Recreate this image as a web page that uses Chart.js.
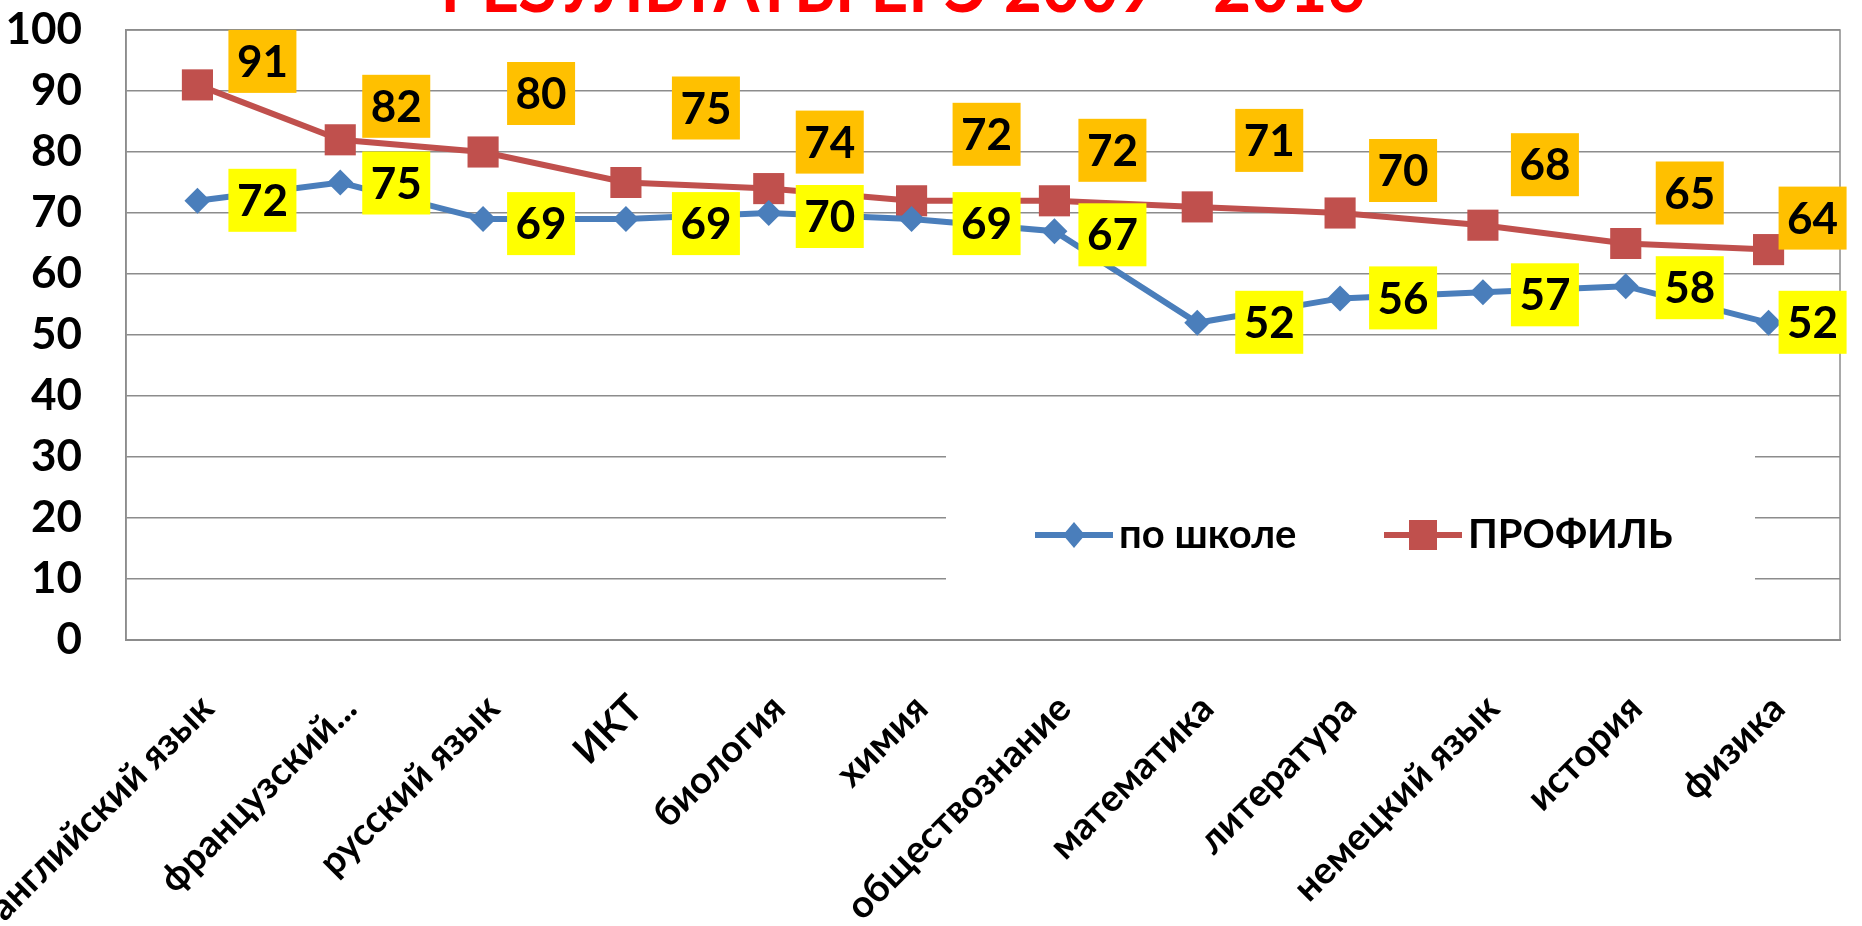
<!DOCTYPE html>
<html>
<head>
<meta charset="utf-8">
<script src="https://cdn.jsdelivr.net/npm/chart.js@4/dist/chart.umd.min.js"></script>
<style>
  html, body { margin: 0; padding: 0; background: #fff; overflow: hidden; }
  canvas { display: block; }
</style>
</head>
<body>
<canvas id="egeChart" width="1862" height="926"></canvas>
<script>
// данные
const titleText = 'РЕЗУЛЬТАТЫ ЕГЭ 2009 - 2016';
const categories = ['английский язык', 'французский...', 'русский язык', 'ИКТ', 'биология', 'химия',
    'обществознание', 'математика', 'литература', 'немецкий язык', 'история', 'физика'];
const seriesNames = ['по школе', 'ПРОФИЛЬ'];
const schoolValues = [72, 75, 69, 69, 70, 69, 67, 52, 56, 57, 58, 52];
const profileValues = [91, 82, 80, 75, 74, 72, 72, 71, 70, 68, 65, 64];

// сдвиги подписей (как их растащили вручную на слайде)
const labelDx = [65, 56, 58, 80, 61, 75, 58, 72, 63, 62, 64, 44];
const schoolDy = [-1, 0, 4, 4, 3, 4, 3, -1, -1, 2, 1, -1];
const profileDy = [-24, -34, -59, -75, -47, -67, -51, -67, -43, -61, -51, -32];

const FONT = 'Lato, "Open Sans", sans-serif';
const blue = '#4a7ebb';
const red = '#c0504d';

const boxLabels = {
    id: 'boxLabels',
    afterDatasetsDraw(chart, args, opts) {
        const ctx = chart.ctx;
        ctx.save();
        ctx.font = 'bold 44px ' + FONT;
        ctx.textAlign = 'center';
        ctx.textBaseline = 'middle';
        chart.data.datasets.forEach((ds, di) => {
            const meta = chart.getDatasetMeta(di);
            meta.data.forEach((pt, i) => {
                const cx = pt.x + opts.dx[i];
                const cy = pt.y + opts.dy[di][i];
                ctx.fillStyle = opts.colors[di];
                ctx.fillRect(cx - 34, cy - 31, 68, 63);
                ctx.fillStyle = '#000';
                ctx.fillText(String(ds.data[i]), cx, cy + 2);
            });
        });
        ctx.restore();
    }
};

// рамка, белая подложка легенды, легенда и заголовок
const decor = {
    id: 'decor',
    beforeDatasetsDraw(chart) {
        const ctx = chart.ctx, a = chart.chartArea;
        ctx.save();
        ctx.strokeStyle = '#8c8c8c';
        ctx.lineWidth = 1.5;
        ctx.strokeRect(a.left, a.top, a.right - a.left, a.bottom - a.top);
        ctx.fillStyle = '#fff';
        ctx.fillRect(946, 421, 809, 165);
        ctx.restore();
    },
    afterDraw(chart) {
        const ctx = chart.ctx;
        ctx.save();
        const items = [
            { x: 1035, color: blue, style: 'diamond', name: seriesNames[0] },
            { x: 1384, color: red, style: 'square', name: seriesNames[1] }
        ];
        const y = 535;
        items.forEach(it => {
            ctx.strokeStyle = it.color;
            ctx.lineWidth = 6;
            ctx.beginPath();
            ctx.moveTo(it.x, y);
            ctx.lineTo(it.x + 78, y);
            ctx.stroke();
            ctx.fillStyle = it.color;
            const mx = it.x + 39;
            if (it.style === 'diamond') {
                ctx.beginPath();
                ctx.moveTo(mx, y - 13);
                ctx.lineTo(mx + 11, y);
                ctx.lineTo(mx, y + 13);
                ctx.lineTo(mx - 11, y);
                ctx.closePath();
                ctx.fill();
            } else {
                ctx.fillRect(mx - 14, y - 15, 28, 30);
            }
            ctx.fillStyle = '#000';
            ctx.font = 'bold 40px ' + FONT;
            ctx.textAlign = 'left';
            ctx.textBaseline = 'middle';
            ctx.fillText(it.name, it.x + 84, y);
        });

        // заголовок слайда, обрезанный сверху
        ctx.font = 'bold 72px ' + FONT;
        const w = ctx.measureText(titleText).width;
        ctx.translate(903, 12);
        ctx.scale(925 / w, 1);
        ctx.fillStyle = '#ff0000';
        ctx.textAlign = 'center';
        ctx.textBaseline = 'alphabetic';
        ctx.fillText(titleText, 0, 0);
        ctx.restore();
    }
};

const ctx = document.getElementById('egeChart').getContext('2d');
const egeChart = new Chart(ctx, {
    type: 'line',
    data: {
        labels: categories,
        datasets: [{
            label: seriesNames[0],
            data: schoolValues,
            borderColor: blue,
            backgroundColor: blue,
            borderWidth: 6,
            pointStyle: 'rectRot',
            pointRadius: 13,
            pointBorderWidth: 0,
            pointBackgroundColor: blue,
            tension: 0
        }, {
            label: seriesNames[1],
            data: profileValues,
            borderColor: red,
            backgroundColor: red,
            borderWidth: 6,
            pointStyle: 'rect',
            pointRadius: 22,
            pointBorderWidth: 0,
            pointBackgroundColor: red,
            tension: 0
        }]
    },
    options: {
        responsive: false,
        animation: false,
        devicePixelRatio: 1,
        layout: { padding: { top: 30, right: 0, left: 0, bottom: 0 } },
        plugins: {
            legend: { display: false },
            title: { display: false },
            tooltip: { enabled: false },
            boxLabels: {
                dx: labelDx,
                dy: [schoolDy, profileDy],
                colors: ['#ffff00', '#ffc000']
            }
        },
        scales: {
            x: {
                offset: true,
                afterFit(s) {
                    s.height = 286;
                    s.paddingLeft = 0;
                    s.paddingRight = 0;
                },
                grid: { display: false, drawTicks: false, offset: true },
                border: { color: '#8c8c8c', width: 2 },
                ticks: {
                    autoSkip: false,
                    maxRotation: 45,
                    minRotation: 45,
                    padding: 46,
                    labelOffset: 10,
                    color: '#000',
                    font: { family: FONT, size: 38, weight: 'bold' }
                }
            },
            y: {
                min: 0,
                max: 100,
                afterFit(s) {
                    s.width = 126;
                    s.paddingTop = 0;
                    s.paddingBottom = 0;
                },
                grid: { color: '#8c8c8c', lineWidth: 1.5, drawTicks: false },
                border: { color: '#8c8c8c', width: 1.5 },
                ticks: {
                    stepSize: 10,
                    padding: 44,
                    color: '#000',
                    font: { family: FONT, size: 44, weight: 'bold' }
                }
            }
        }
    },
    plugins: [boxLabels, decor]
});
</script>
</body>
</html>
